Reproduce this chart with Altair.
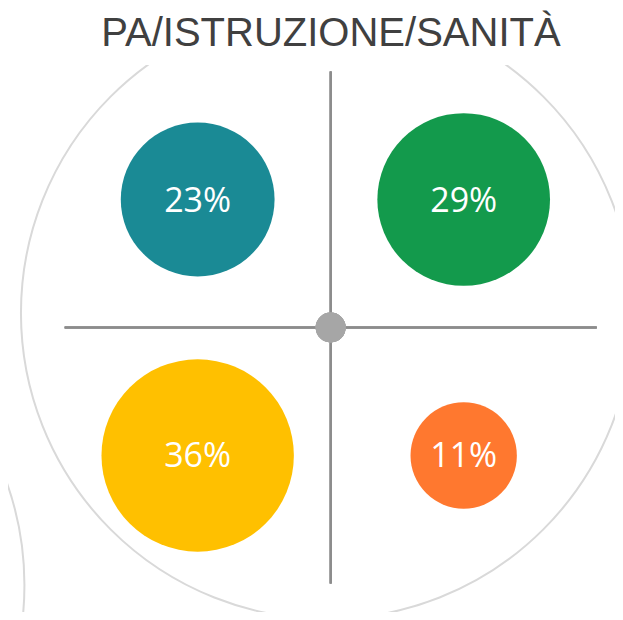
import altair as alt
import pandas as pd

# ---- data ----
labels = ["23%", "29%", "36%", "11%"]
values = [23, 29, 36, 11]
colors = ["#1A8A95", "#139A4C", "#FFC000", "#FF782F"]
quad_col = [-1, 1, -1, 1]
quad_row = [1, 1, -1, -1]
title_text = "PA/ISTRUZIONE/SANITÀ"

df = pd.DataFrame({
    "label": labels,
    "value": values,
    "color": colors,
    "col": quad_col,
    "row": quad_row,
})

# ---- layout ----
W, H, TOP = 607, 547, 57
xdom = [-2.426, 2.1376]
ydom = [-2.2227, 2.0508]
xs = alt.Scale(domain=xdom, nice=False, zero=False)
ys = alt.Scale(domain=ydom, nice=False, zero=False)
noax = None


def sym_size(r):
    # Vega circle symbol: radius = sqrt(size) / 2
    return (2 * r) ** 2


ring_df = pd.DataFrame({"x": [-0.028, -4.603], "y": [0.113, -2.012]})

base = alt.Chart(df)

rings = alt.Chart(ring_df).mark_point(
    shape="circle", filled=False, stroke="#D9D9D9", strokeWidth=2, clip=True, opacity=1
).encode(
    x=alt.X("x:Q", scale=xs, axis=noax),
    y=alt.Y("y:Q", scale=ys, axis=noax),
    size=alt.value(sym_size(306)),
)

hline = alt.Chart(df).mark_rule(color="#8C8C8C", strokeWidth=2).encode(
    x=alt.datum(-2, scale=xs, axis=noax), x2=alt.datum(2), y=alt.datum(0, scale=ys, axis=noax)
)
vline = alt.Chart(df).mark_rule(color="#8C8C8C", strokeWidth=2).encode(
    y=alt.datum(-2, scale=ys, axis=noax), y2=alt.datum(2), x=alt.datum(0, scale=xs, axis=noax)
)
dot = alt.Chart(df).mark_point(shape="circle", filled=True, color="#A6A6A6", opacity=1).encode(
    x=alt.datum(0, scale=xs, axis=noax), y=alt.datum(0, scale=ys, axis=noax),
    size=alt.value(sym_size(15)),
)

bubbles = base.mark_point(shape="circle", filled=True, opacity=1, strokeWidth=0).encode(
    x=alt.X("col:Q", scale=xs, axis=noax),
    y=alt.Y("row:Q", scale=ys, axis=noax),
    size=alt.Size("value:Q", scale=alt.Scale(type="linear", domain=[0, 36],
                                             range=[0, sym_size(96.2)]), legend=None),
    color=alt.Color("color:N", scale=None),
)

text = base.mark_text(font="Open Sans", fontSize=34, color="white", align="center",
                      baseline="alphabetic", dy=12).encode(
    x=alt.X("col:Q", scale=xs, axis=noax),
    y=alt.Y("row:Q", scale=ys, axis=noax),
    text="label:N",
)

title = alt.Chart(pd.DataFrame({"t": [title_text]})).mark_text(
    font="Liberation Sans", fontSize=40, color="#404040", align="center",
    baseline="alphabetic", clip=False
).encode(
    x=alt.datum(0.002, scale=xs, axis=noax),
    y=alt.datum(2.199, scale=ys, axis=noax),
    text="t:N",
)

chart = alt.layer(rings, hline, vline, dot, bubbles, text, title).properties(
    width=W, height=H,
    padding={"top": TOP, "left": 0, "right": 0, "bottom": 0},
    autosize=alt.AutoSizeParams(type="none"),
).configure(background="white").configure_view(stroke="transparent", strokeWidth=0)

chart.save("out.html", embed_options={"renderer": "svg", "actions": False})
